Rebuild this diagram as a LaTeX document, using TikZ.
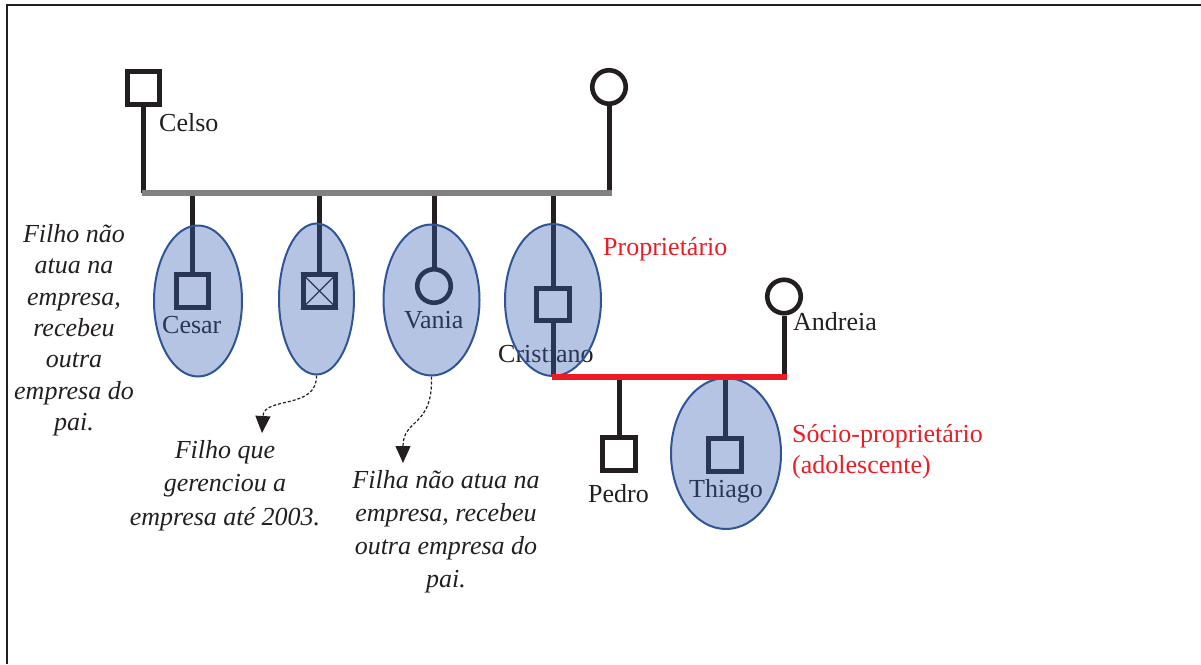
\documentclass[tikz,border=0pt]{standalone}
\usepackage{fontspec}
\setmainfont{Liberation Serif}
\usetikzlibrary{shapes.geometric,arrows.meta}
\definecolor{ink}{RGB}{35,31,32}
\definecolor{bargray}{RGB}{128,128,128}
\definecolor{bond}{RGB}{237,28,36}
\definecolor{ovalfill}{RGB}{54,95,176}
\definecolor{ovalline}{RGB}{47,85,151}
\begin{document}
\begin{tikzpicture}[x=1pt,y=-1pt,
  font=\fontsize{26}{31.4}\selectfont,
  male/.style={draw=ink, line width=4.6pt, rectangle, minimum size=32.5pt, inner sep=0pt},
  female/.style={draw=ink, line width=4.6pt, circle, minimum size=33.5pt, inner sep=0pt},
  kin/.style={draw=ink, line width=5pt},
  persname/.style={anchor=base west, inner sep=0pt, text=ink},
  notetext/.style={align=center, inner sep=0pt, text=ink, anchor=north},
  focus/.style={ellipse, draw=ovalline, line width=2pt, fill=ovalfill, fill opacity=0.37, inner sep=0pt},
  pointer/.style={ink, line width=1.2pt, dash pattern=on 3pt off 2pt, -{Triangle[width=15pt,length=17pt]}},
]
\useasboundingbox (0,0) rectangle (1201,664);

% frame
\draw[ink, line width=2pt] (7,664) -- (7,5) -- (1201,5);

% first generation
\node[male] (celso) at (143.5,88) {};
\node[persname] (celsoname) at (159,131) {Celso};
\node[female] (mother) at (609,87) {};
\coordinate (barL) at (142,193);
\coordinate (barR) at (612,193);
\draw[kin] (celso.south) -- (celso.south |- barL);
\draw[kin] (mother.south) -- (mother.south |- barR);

% children
\node[male] (cesar) at (192.5,291) {};
\node[male] (sibling) at (319.5,291) {};
\draw[ink, line width=1.3pt] (sibling.north west) -- (sibling.south east)
                             (sibling.north east) -- (sibling.south west);
\node[female] (vania) at (434,286) {};
\node[male] (cristiano) at (553,304.5) {};
\draw[kin] (cesar.north) -- (cesar.north |- barL);
\draw[kin] (sibling.north) -- (sibling.north |- barL);
\draw[kin] (vania.north) -- (vania.north |- barL);
\draw[kin] (cristiano.north) -- (cristiano.north |- barL);
\draw[bargray, line width=6pt] (barL) -- (barR);

\node[persname] (cesarname) at (162,333) {Cesar};
\node[persname] (vanianame) at (404,328) {Vania};

% Cristiano and Andreia
\coordinate (redL) at (552,377);
\coordinate (redR) at (787,377);
\node[female] (andreia) at (784,296.5) {};
\node[persname] (andreianame) at (793,330) {Andreia};
\draw[kin] (cristiano.south) -- (cristiano.south |- redL);
\draw[kin] (andreia.south) -- (andreia.south |- redR);
\node[persname] (cristianoname) at (498,362) {Cristiano};

% grandchildren
\node[male] (pedro) at (619,454) {};
\node[persname] (pedroname) at (588,502) {Pedro};
\node[male] (thiago) at (725,455) {};
\node[persname] (thiagoname) at (689,497) {Thiago};
\draw[kin] (pedro.north) -- (pedro.north |- redL);
\draw[kin] (thiago.north) -- (thiago.north |- redL);

% highlighted members
\node[focus, minimum width=88pt, minimum height=151pt] (ovCesar) at (198,301) {};
\node[focus, minimum width=75pt, minimum height=151pt] (ovSib) at (316.5,299) {};
\node[focus, minimum width=96pt, minimum height=151pt] (ovVania) at (431.5,300) {};
\node[focus, minimum width=96pt, minimum height=152pt] (ovCrist) at (553,300) {};
\node[focus, minimum width=110pt, minimum height=151pt] (ovThiago) at (726,453.5) {};

% couple line
\draw[bond, line width=6pt] (redL) -- (redR);

% roles
\node[persname, text=bond] (owner) at (603,255) {Proprietário};
\node[inner sep=0pt, text=bond, align=left, anchor=north west,
      font=\fontsize{26}{31}\selectfont] (partner) at (792,424) {Sócio-proprietário\\(adolescente)};

% notes
\node[notetext, font=\fontsize{26}{31.4}\selectfont\itshape] (noteCesar) at (74,224)
  {Filho não\\atua na\\empresa,\\recebeu\\outra\\empresa do\\pai.};
\node[notetext, font=\fontsize{26}{33.5}\selectfont\itshape] (noteSib) at (225,440)
  {Filho que\\gerenciou a\\empresa até 2003.};
\node[notetext, font=\fontsize{26}{33}\selectfont\itshape] (noteVania) at (446,470)
  {Filha não atua na\\empresa, recebeu\\outra empresa do\\pai.};

\coordinate (tipSib) at (262,433);
\coordinate (tipVania) at (403,463);
\draw[pointer] (ovSib.south) .. controls (317,410) and (264,396) .. (tipSib);
\draw[pointer] (ovVania.south) .. controls (433,428) and (403,418) .. (tipVania);
\end{tikzpicture}
\end{document}
